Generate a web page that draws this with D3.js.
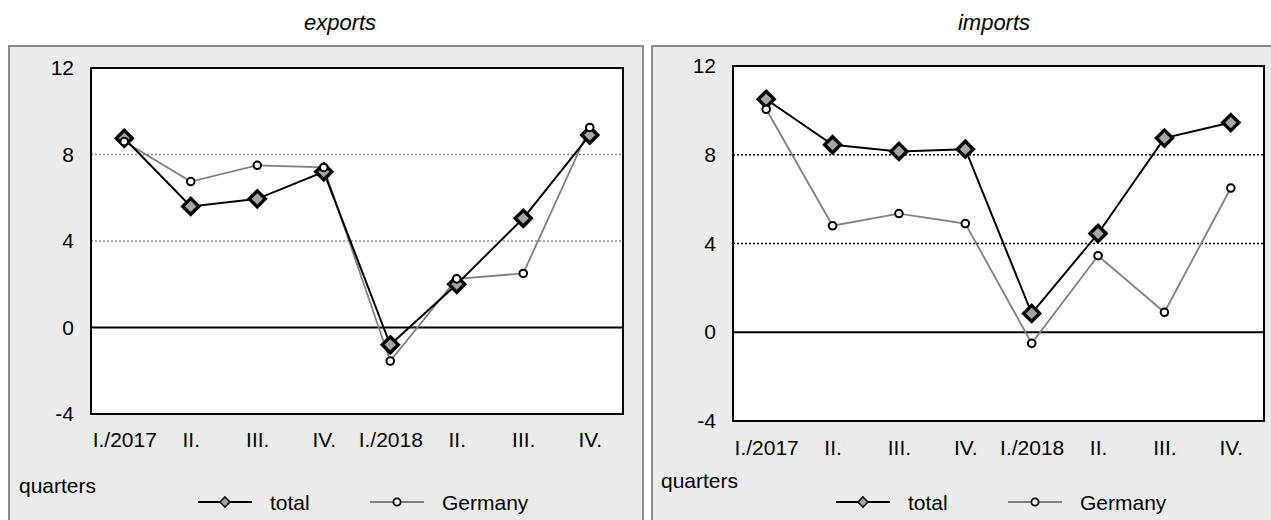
<!DOCTYPE html>
<html>
<head>
<meta charset="utf-8">
<script src="https://cdn.jsdelivr.net/npm/d3@7"></script>
<style>
  body { margin: 0; background: #fff; }
  text { font-family: "Liberation Sans", Arial, sans-serif; fill: #000; }
</style>
</head>
<body>
<svg id="chart" width="1271" height="520"></svg>
<script>
(function() {

// data
var quarters = ["I./2017", "II.", "III.", "IV.", "I./2018", "II.", "III.", "IV."];
var yTicks = [-4, 0, 4, 8, 12];
var gridTicks = [4, 8];

var exportsTotal   = [8.75, 5.6, 5.95, 7.2, -0.8, 2.0, 5.05, 8.9];
var exportsGermany = [8.6, 6.75, 7.5, 7.4, -1.55, 2.25, 2.5, 9.25];
var importsTotal   = [10.5, 8.45, 8.15, 8.25, 0.85, 4.45, 8.75, 9.45];
var importsGermany = [10.05, 4.8, 5.35, 4.9, -0.5, 3.45, 0.9, 6.5];

var seriesNames = ["total", "Germany"];

var svg = d3.select("#chart");

function diamond(r) {
  return "M0," + (-r) + "L" + r + ",0L0," + r + "L" + (-r) + ",0Z";
}

function drawPanel(cfg, total, germany) {
  // grey panel
  svg.append("rect")
    .attr("x", cfg.box[0]).attr("y", cfg.box[1])
    .attr("width", cfg.box[2]).attr("height", cfg.box[3])
    .attr("fill", "#ececec")
    .attr("stroke", "#8a8a8a")
    .attr("stroke-width", 2);

  svg.append("text")
    .attr("x", cfg.titleX).attr("y", 30)
    .attr("text-anchor", "middle")
    .style("font-size", "22px")
    .style("font-style", "italic")
    .text(cfg.title);

  var x = d3.scalePoint().domain(d3.range(quarters.length))
    .range([cfg.left, cfg.right]).padding(0.5);
  var y = d3.scaleLinear().domain([-4, 12]).range([cfg.bottom, cfg.top]);

  svg.append("rect")
    .attr("x", cfg.left).attr("y", cfg.top)
    .attr("width", cfg.right - cfg.left).attr("height", cfg.bottom - cfg.top)
    .attr("fill", "#fff");

  // dotted grid
  svg.selectAll(null).data(gridTicks).enter().append("line")
    .attr("x1", cfg.left).attr("x2", cfg.right)
    .attr("y1", function(d) { return y(d); }).attr("y2", function(d) { return y(d); })
    .attr("stroke", cfg.gridColor)
    .attr("stroke-width", 1.4)
    .attr("stroke-dasharray", "2,2");

  svg.append("line")
    .attr("x1", cfg.left).attr("x2", cfg.right)
    .attr("y1", y(0)).attr("y2", y(0))
    .attr("stroke", "#000").attr("stroke-width", 2);

  svg.append("rect")
    .attr("x", cfg.left).attr("y", cfg.top)
    .attr("width", cfg.right - cfg.left).attr("height", cfg.bottom - cfg.top)
    .attr("fill", "none")
    .attr("stroke", "#000").attr("stroke-width", 2);

  // axes
  var ya = svg.append("g")
    .attr("transform", "translate(" + cfg.left + ",0)")
    .call(d3.axisLeft(y).tickValues(yTicks).tickSize(0).tickPadding(17)
      .tickFormat(function(d) { return String(d); }));
  ya.select(".domain").remove();
  ya.selectAll("text").style("font-size", "21px").attr("font-family", null);

  var xa = svg.append("g")
    .attr("transform", "translate(0," + cfg.bottom + ")")
    .call(d3.axisBottom(x).tickSize(0).tickPadding(cfg.xPad)
      .tickFormat(function(i) { return quarters[i]; }));
  xa.select(".domain").remove();
  xa.selectAll("text").style("font-size", "21px").attr("font-family", null);

  // lines
  var line = d3.line()
    .x(function(d, i) { return x(i); })
    .y(function(d) { return y(d); });

  svg.append("path").datum(germany)
    .attr("d", line).attr("fill", "none")
    .attr("stroke", "#808080").attr("stroke-width", 1.8);

  svg.append("path").datum(total)
    .attr("d", line).attr("fill", "none")
    .attr("stroke", "#000").attr("stroke-width", 2);

  svg.selectAll(null).data(total).enter().append("path")
    .attr("d", diamond(8))
    .attr("transform", function(d, i) { return "translate(" + x(i) + "," + y(d) + ")"; })
    .attr("fill", "#a6a6a6")
    .attr("stroke", "#000").attr("stroke-width", 3.4);

  svg.selectAll(null).data(germany).enter().append("circle")
    .attr("cx", function(d, i) { return x(i); })
    .attr("cy", function(d) { return y(d); })
    .attr("r", 3.8)
    .attr("fill", "#fff")
    .attr("stroke", "#000").attr("stroke-width", 2);

  // footer
  svg.append("text")
    .attr("x", cfg.quartersX).attr("y", cfg.quartersY)
    .style("font-size", "21px")
    .text("quarters");

  var lg = svg.append("g").attr("transform", "translate(" + cfg.legendX + ",502)");
  lg.append("line").attr("x1", 0).attr("x2", 54)
    .attr("stroke", "#000").attr("stroke-width", 2);
  lg.append("path").attr("d", diamond(5))
    .attr("transform", "translate(27,0)")
    .attr("fill", "#a6a6a6").attr("stroke", "#000").attr("stroke-width", 1.6);
  lg.append("text").attr("x", 72).attr("y", 8)
    .style("font-size", "21px").text(seriesNames[0]);

  lg.append("line").attr("x1", 172).attr("x2", 226)
    .attr("stroke", "#808080").attr("stroke-width", 1.8);
  lg.append("circle").attr("cx", 199).attr("cy", 0).attr("r", 3.6)
    .attr("fill", "#fff").attr("stroke", "#000").attr("stroke-width", 1.8);
  lg.append("text").attr("x", 244).attr("y", 8)
    .style("font-size", "21px").text(seriesNames[1]);
}

drawPanel({
  title: "exports", titleX: 340,
  box: [9, 46, 634, 490],
  left: 91, right: 623, top: 68, bottom: 414,
  xPad: 18, gridColor: "#8c8c8c",
  quartersX: 19, quartersY: 493,
  legendX: 198
}, exportsTotal, exportsGermany);

drawPanel({
  title: "imports", titleX: 994,
  box: [652, 46, 630, 490],
  left: 733, right: 1264, top: 66, bottom: 421,
  xPad: 19, gridColor: "#000",
  quartersX: 661, quartersY: 488,
  legendX: 836
}, importsTotal, importsGermany);

})();
</script>
</body>
</html>
